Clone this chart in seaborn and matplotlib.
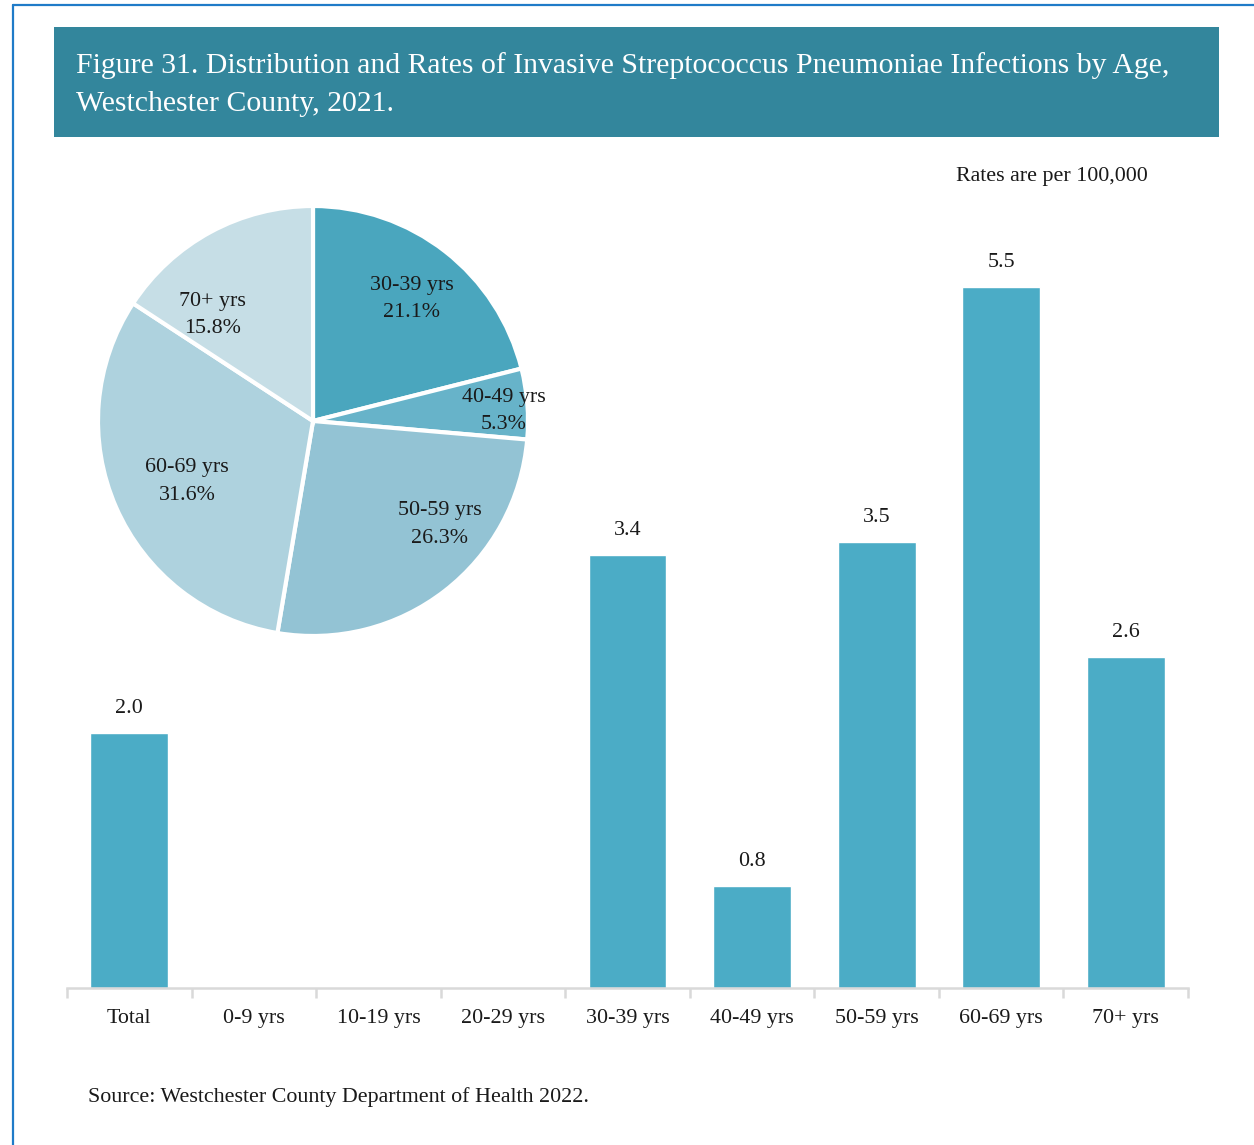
import numpy as np
import pandas as pd
import matplotlib
matplotlib.use("Agg")
import matplotlib.pyplot as plt
import seaborn as sns
from matplotlib.patches import Rectangle
from matplotlib.lines import Line2D

# bar chart data (rates per 100,000)
age_groups = ["Total", "0-9 yrs", "10-19 yrs", "20-29 yrs", "30-39 yrs",
              "40-49 yrs", "50-59 yrs", "60-69 yrs", "70+ yrs"]
rates = [2.0, 0.0, 0.0, 0.0, 3.4, 0.8, 3.5, 5.5, 2.6]

# pie chart data (share of cases)
pie_groups = ["30-39 yrs", "40-49 yrs", "50-59 yrs", "60-69 yrs", "70+ yrs"]
pie_pct = [21.1, 5.3, 26.3, 31.6, 15.8]

pie_colors = ["#4AA6BE", "#67B3C9", "#93C3D4", "#AED2DE", "#C6DEE6"]
# label placement inside the pie: radius fraction and angle shift (deg)
label_r = [0.73, 0.89, 0.76, 0.65, 0.68]
label_shift = [-1, -1.5, 13, 2, 15]

sns.set_theme(style="white")
plt.rcParams["font.family"] = ["Liberation Serif", "DejaVu Serif"]

W, H = 1254, 1145
fs = 15.8
txt = "#1a1a1a"
fig = plt.figure(figsize=(W / 100, H / 100), dpi=100)

# blue page frame
fig.add_artist(Line2D([13 / W, 1], [1 - 5 / H, 1 - 5 / H], color="#1F7BC8", lw=1.6))
fig.add_artist(Line2D([13 / W, 13 / W], [1 - 5 / H, 0], color="#1F7BC8", lw=1.6))

# title banner
fig.add_artist(Rectangle((54 / W, 1 - 137 / H), (1219 - 54) / W, 110 / H,
                         facecolor="#33869C", edgecolor="none"))
fig.text(76 / W, 1 - 66 / H,
         "Figure 31. Distribution and Rates of Invasive Streptococcus Pneumoniae Infections by Age,",
         color="white", fontsize=21.4, va="center", ha="left")
fig.text(76 / W, 1 - 104 / H, "Westchester County, 2021.",
         color="white", fontsize=21.4, va="center", ha="left")

fig.text(1148 / W, 1 - 176 / H, "Rates are per 100,000", fontsize=fs,
         ha="right", va="center", color=txt)
fig.text(88 / W, 1 - 1097 / H,
         "Source: Westchester County Department of Health 2022.",
         fontsize=fs, ha="left", va="center", color=txt)

# bar chart
ymax = 6.0
ax = fig.add_axes([67 / W, 1 - 988 / H, (1188 - 67) / W, (988 - 223) / H])
df = pd.DataFrame({"age": age_groups, "rate": rates})
sns.barplot(data=df, x="age", y="rate", color="#4BACC6", saturation=1,
            width=0.625, ax=ax)
ax.set_xlim(-0.5, len(age_groups) - 0.5)
ax.set_ylim(0, ymax)
ax.set_xlabel("")
ax.set_ylabel("")
ax.set_yticks([])
for s in ["top", "right", "left"]:
    ax.spines[s].set_visible(False)
ax.spines["bottom"].set_color("#D9D9D9")
ax.spines["bottom"].set_linewidth(1.8)
ax.set_xticks(range(len(age_groups)))
ax.set_xticklabels(age_groups, fontsize=fs, color=txt)
ax.tick_params(axis="x", which="major", length=0, pad=15)
ax.set_xticks(np.arange(-0.5, len(age_groups)), minor=True)
ax.tick_params(axis="x", which="minor", length=7, width=1.8, color="#D9D9D9",
               bottom=True)
for i, v in enumerate(rates):
    if v > 0:
        ax.annotate(f"{v:.1f}", (i, v), xytext=(0, 17.5), textcoords="offset points",
                    ha="center", va="center", fontsize=fs, color=txt)

# pie chart
R = 1.05
pax = fig.add_axes([(313 - 215 * R) / W, 1 - (421 + 215 * R) / H,
                    2 * 215 * R / W, 2 * 215 * R / H])
wedges, _ = pax.pie(pie_pct, colors=pie_colors, startangle=90, counterclock=False,
                    wedgeprops=dict(edgecolor="white", linewidth=3))
pax.set_xlim(-R, R)
pax.set_ylim(-R, R)
pax.set_aspect("equal")
pax.axis("off")
for w, name, pct, r, sh in zip(wedges, pie_groups, pie_pct, label_r, label_shift):
    ang = np.deg2rad((w.theta1 + w.theta2) / 2 + sh)
    pax.text(r * np.cos(ang), r * np.sin(ang), f"{name}\n{pct:.1f}%",
             ha="center", va="center", fontsize=fs, color=txt,
             linespacing=1.6)

fig.savefig("out.png", dpi=100)
